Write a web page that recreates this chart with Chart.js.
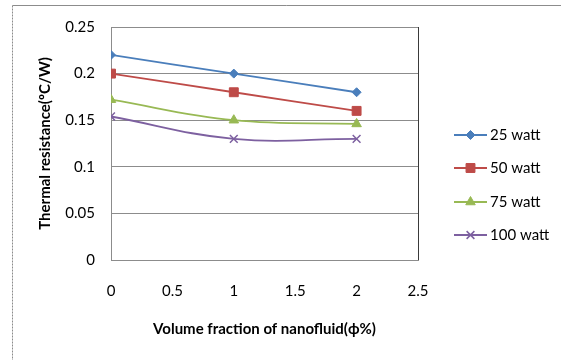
<!DOCTYPE html>
<html><head><meta charset="utf-8">
<script src="https://cdn.jsdelivr.net/npm/chart.js@4"></script>
<style>html,body{margin:0;padding:0;background:#fff}#wrap{width:561px;height:360px}</style>
</head><body><div id="wrap"><canvas id="c" width="561" height="360"></canvas></div>
<script>
const volumeFraction = [0, 1, 2];
const watt25 = [0.22, 0.20, 0.18];
const watt50 = [0.20, 0.18, 0.16];
const watt75 = [0.172, 0.15, 0.146];
const watt100 = [0.154, 0.13, 0.13];
const seriesNames = ['25 watt', '50 watt', '75 watt', '100 watt'];
const xTicks = [0, 0.5, 1, 1.5, 2, 2.5];
const yTicks = [0, 0.05, 0.1, 0.15, 0.2, 0.25];

const colors = ['#4A7EBB', '#BE4B48', '#98B954', '#7D60A0'];
const styles = ['rectRot', 'rect', 'triangle', 'crossRot'];
const radii = [4.5, 6.3, 5.5, 5.5];
const allSeries = [watt25, watt50, watt75, watt100];

const datasets = allSeries.map((vals, i) => ({
  label: seriesNames[i],
  data: vals.map((v, j) => ({x: volumeFraction[j], y: v})),
  borderColor: colors[i],
  backgroundColor: colors[i],
  pointBackgroundColor: colors[i],
  pointBorderColor: colors[i],
  pointStyle: styles[i],
  pointRadius: radii[i],
  pointBorderWidth: styles[i] === 'crossRot' ? 1.5 : 1,
  borderWidth: 1.8,
  tension: 0.4,
  fill: false
}));

const FONT = 'Lato, "Open Sans", sans-serif';

const framePlugin = {
  id: 'frame',
  afterDraw(chart) {
    const ctx = chart.ctx;
    const a = chart.chartArea;
    ctx.save();
    ctx.strokeStyle = '#8c8c8c';
    ctx.lineWidth = 1;
    ctx.beginPath();
    ctx.moveTo(561, 5.5); ctx.lineTo(12.5, 5.5);
    ctx.stroke();
    ctx.setLineDash([2, 1]);
    ctx.beginPath();
    ctx.moveTo(12.5, 5.5); ctx.lineTo(12.5, 360);
    ctx.stroke();
    ctx.setLineDash([]);
    ctx.strokeStyle = '#3a3a3a';
    ctx.beginPath();
    ctx.moveTo(Math.round(a.right) + 0.5, a.top);
    ctx.lineTo(Math.round(a.right) + 0.5, a.bottom);
    ctx.stroke();
    const ys = [135, 168, 202, 235];
    chart.data.datasets.forEach((ds, i) => {
      const y = ys[i];
      ctx.strokeStyle = ds.borderColor;
      ctx.lineWidth = 1.8;
      ctx.beginPath();
      ctx.moveTo(454, y); ctx.lineTo(487, y);
      ctx.stroke();
      ctx.fillStyle = ds.pointBackgroundColor;
      ctx.strokeStyle = ds.pointBorderColor;
      ctx.lineWidth = ds.pointBorderWidth;
      Chart.helpers.drawPoint(ctx, {pointStyle: ds.pointStyle, radius: ds.pointRadius, borderWidth: ds.pointBorderWidth, rotation: 0}, 470.5, y);
      ctx.fillStyle = '#000';
      ctx.font = '15px ' + FONT;
      ctx.textBaseline = 'middle';
      ctx.textAlign = 'left';
      ctx.fillText(ds.label, 490, y + 0.5);
    });
    ctx.restore();
  }
};

new Chart(document.getElementById('c'), {
  type: 'line',
  data: { datasets },
  plugins: [framePlugin],
  options: {
    responsive: false,
    animation: false,
    layout: { padding: { left: 36, right: 143, top: 27, bottom: 22 } },
    plugins: { legend: { display: false }, tooltip: { enabled: false } },
    scales: {
      x: {
        type: 'linear', min: 0, max: 2.5,
        afterFit(s) { s.height = 78; },
        afterBuildTicks(s) { s.ticks = xTicks.map(v => ({value: v})); },
        grid: { display: false, drawTicks: false },
        border: { display: true, color: '#8c8c8c', width: 1 },
        ticks: { color: '#000', font: { family: FONT, size: 15 }, padding: 22, maxRotation: 0,
                 callback: v => String(v) },
        title: { display: true, text: 'Volume fraction of nanofluid(ϕ%)', color: '#000',
                 font: { family: FONT, size: 15, weight: 'bold' }, padding: { top: 0, bottom: 0 } }
      },
      y: {
        min: 0, max: 0.25,
        afterFit(s) { s.width = 75; },
        afterBuildTicks(s) { s.ticks = yTicks.map(v => ({value: v})); },
        grid: { color: '#8c8c8c', lineWidth: 1, drawTicks: false },
        border: { display: true, color: '#8c8c8c', width: 1 },
        ticks: { color: '#000', font: { family: FONT, size: 15 }, padding: 16,
                 callback: v => String(+v.toFixed(2)) },
        title: { display: true, text: 'Thermal resistance(ºC/W)', color: '#000',
                 font: { family: FONT, size: 15, weight: 'bold' }, padding: 0 }
      }
    }
  }
});
</script></body></html>
